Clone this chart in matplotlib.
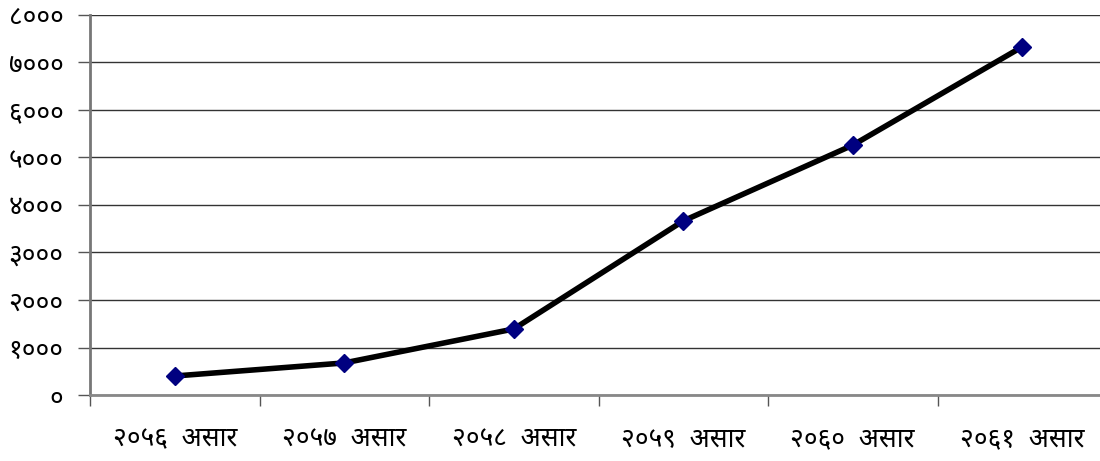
import matplotlib
matplotlib.use("Agg")
import matplotlib.pyplot as plt
from matplotlib import font_manager as fm

# data
years = ["२०५६", "२०५७", "२०५८", "२०५९", "२०६०", "२०६१"]
month = "असार"
values = [400, 675, 1390, 3665, 5260, 7330]
yticks = [0, 1000, 2000, 3000, 4000, 5000, 6000, 7000, 8000]

DEVA = str.maketrans("0123456789", "०१२३४५६७८९")

names = {f.name for f in fm.fontManager.ttflist}
fam = [n for n in ["Noto Sans Devanagari", "Mukta", "Hind"] if n in names] + ["DejaVu Sans"]
plt.rcParams["font.family"] = fam

fig = plt.figure(figsize=(11, 4.61), dpi=100)
ax = fig.add_axes([90 / 1100, 66 / 461, 1017 / 1100, 380 / 461])

x = list(range(len(values)))
ax.plot(x, values, color="black", linewidth=4, marker="D", markersize=9,
        markerfacecolor="#000080", markeredgecolor="#000080", zorder=3)

ax.set_xlim(-0.5, len(values) - 0.5)
ax.set_ylim(0, 8000)
ax.set_yticks(yticks)
ax.set_yticklabels([str(v).translate(DEVA) for v in yticks], fontsize=19)
ax.set_xticks([i - 0.5 for i in range(len(values) + 1)])
ax.set_xticklabels([])
ax.set_xticks(x, minor=True)
ax.set_xticklabels([y + "  " + month for y in years], minor=True, fontsize=19)
ax.tick_params(axis="x", which="minor", length=0, pad=22)
ax.tick_params(axis="x", which="major", length=8, width=1, color="#555555", direction="out")
ax.tick_params(axis="y", length=9, width=1, color="#555555", pad=10)

ax.grid(axis="y", color="#333333", linewidth=1)
ax.set_axisbelow(True)
for s in ["top", "right"]:
    ax.spines[s].set_visible(False)
ax.spines["left"].set_color("#777777")
ax.spines["left"].set_linewidth(2)
ax.spines["bottom"].set_color("#888888")
ax.spines["bottom"].set_linewidth(2)

fig.savefig("out.png")
